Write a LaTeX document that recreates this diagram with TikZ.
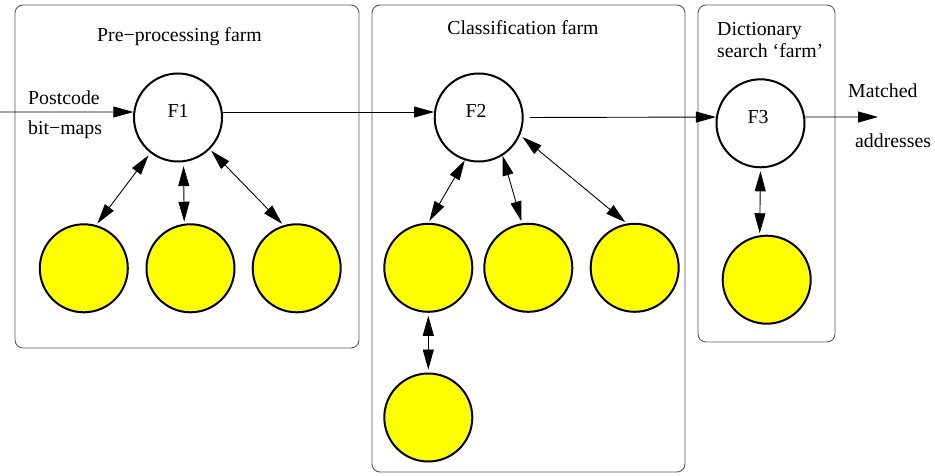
\documentclass[tikz,border=0pt]{standalone}
\usepackage{fontspec}
\setmainfont{Liberation Serif}
\usetikzlibrary{arrows.meta}
\definecolor{yel}{RGB}{255,255,0}
\begin{document}
\begin{tikzpicture}[x=1pt,y=-1pt,
  farm/.style={draw=black!65,line width=0.9pt,rounded corners=8pt},
  master/.style={circle,draw,line width=2pt,fill=white,minimum size=88pt,inner sep=0pt},
  worker/.style={circle,draw,line width=2pt,fill=yel,minimum size=88pt,inner sep=0pt},
  txt/.style={inner sep=0pt,font=\fontsize{19.8}{23}\selectfont},
  flow/.style={line width=0.9pt,-{Triangle[length=20pt,width=11pt]}},
  dbl/.style={line width=0.9pt,{Triangle[length=20pt,width=11pt]}-{Triangle[length=20pt,width=11pt]}}
]
\useasboundingbox (0,0) rectangle (935,476);
% farms
\draw[farm] (15,5) rectangle (359,348);
\draw[farm] (372,5) rectangle (685,472);
\draw[farm] (698,5) rectangle (835,342);
% titles
\node[txt,anchor=base] (t1) at (179.5,42) {Pre−processing farm};
\node[txt,anchor=base] (t2) at (523,35) {Classification farm};
\node[txt,anchor=base west] (t3a) at (717,36) {Dictionary};
\node[txt,anchor=base west] (t3b) at (717,58) {search ‘farm’};
% masters
\node[master] (F1) at (178,117.5) {};
\node[master] (F2) at (478.7,117.5) {};
\node[master] (F3) at (760.5,123.3) {};
\node[txt,anchor=base] (F1t) at (178,118) {F1};
\node[txt,anchor=base] (F2t) at (476,118) {F2};
\node[txt,anchor=base] (F3t) at (758,124) {F3};
% workers
\node[worker] (Y1) at (83.8,268.3) {};
\node[worker] (Y2) at (190.5,268.3) {};
\node[worker] (Y3) at (296.7,268.3) {};
\node[worker] (Y4) at (428.3,267.8) {};
\node[worker] (Y5) at (528.3,267.8) {};
\node[worker] (Y6) at (634.7,267.8) {};
\node[worker] (Y7) at (428.3,417.5) {};
\node[worker] (Y8) at (766.7,279.7) {};
% labels
\node[txt,anchor=base west] (pc) at (28,105) {Postcode};
\node[txt,anchor=base west] (bm) at (28,135) {bit−maps};
\node[txt,anchor=base west] (ma) at (848,98) {Matched};
\node[txt,anchor=base west] (ad) at (855,148) {addresses};
% flow
\coordinate (inp) at (0,112);
\coordinate (outp) at (878,117);
\draw[flow] (inp) -- (F1.173);
\draw[flow] (F1.7) -- (F2.173);
\draw[flow,shorten <=6pt] (F2.east) -- (F3.172);
\draw[flow] (F3.8) -- (outp);
% master-worker links
\draw[dbl,shorten <=3pt,shorten >=2pt] (F1.-128) -- (Y1.74);
\draw[dbl,shorten <=4pt,shorten >=2pt] (F1.-83) -- (Y2.98);
\draw[dbl,shorten <=2pt,shorten >=2pt] (F1.-45) -- (Y3.107);
\draw[dbl,shorten >=2pt] (F2.-108) -- (Y4.90);
\draw[dbl,shorten >=2pt] (F2.-58) -- (Y5.98);
\draw[dbl,shorten <=3pt,shorten >=2pt] (F2.-23) -- (Y6.100);
\draw[dbl,shorten <=3pt,shorten >=3pt] (Y4.-90) -- (Y7.90);
\draw[dbl,shorten <=3pt,shorten >=2pt] (F3.-90) -- (Y8.99);
\end{tikzpicture}
\end{document}
